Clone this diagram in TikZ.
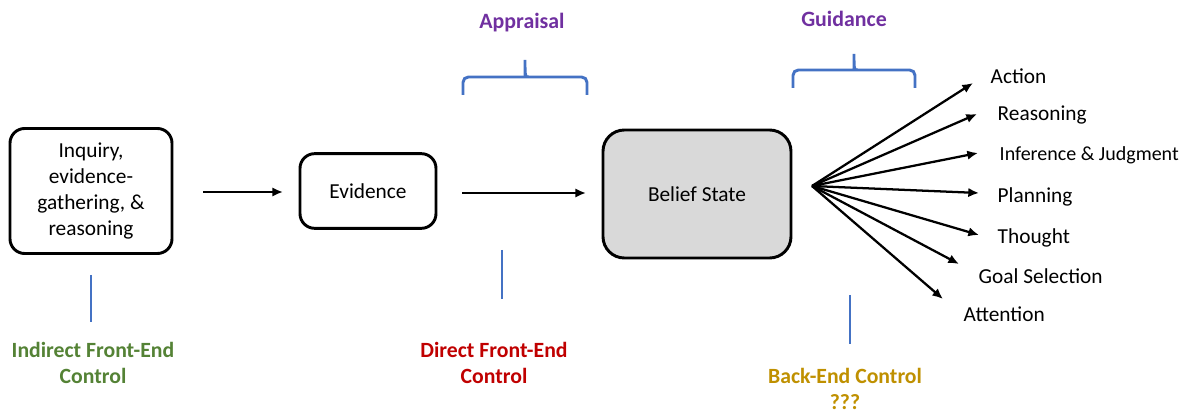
\documentclass[tikz,border=0pt]{standalone}
\usepackage{fontspec}
\setmainfont{Carlito}
\usetikzlibrary{arrows.meta,positioning}
\definecolor{braceblue}{HTML}{4472C4}
\definecolor{apppurple}{HTML}{7030A0}
\definecolor{ctrlgreen}{HTML}{548235}
\definecolor{ctrlred}{HTML}{C00000}
\definecolor{ctrlgold}{HTML}{BF9000}
\definecolor{stategray}{HTML}{D9D9D9}
\tikzset{
  procbox/.style={draw=black, line width=2.2pt, rounded corners=11pt, align=center, font=\fontsize{16}{19.5}\selectfont},
  flow/.style={-{Latex[length=8pt,width=7pt]}, line width=1.9pt, black},
  fan/.style={-{Latex[length=8pt,width=7pt]}, line width=1.7pt, black},
  brace/.style={draw=braceblue, line width=2.2pt},
  tick/.style={draw=braceblue, line width=1.1pt},
  outlbl/.style={anchor=west, font=\fontsize{16}{19.5}\selectfont},
  ctrl/.style={font=\bfseries\fontsize{16.3}{19.5}\selectfont, align=center, inner sep=1pt},
  phase/.style={font=\bfseries\fontsize{16.4}{19.5}\selectfont, text=apppurple}
}

\begin{document}
\begin{tikzpicture}[x=0.75pt,y=-0.75pt]
  \useasboundingbox (0,0) rectangle (1183,413);
  % main chain
  \node[procbox, minimum width=121.5pt, minimum height=93.75pt] (inquiry) at (91,191)
    {Inquiry,\\evidence-\\gathering, \&\\reasoning};
  \node[procbox, minimum width=102pt, minimum height=56pt] (evidence) at (368,191) {Evidence};
  \node[procbox, fill=stategray, rounded corners=16pt, minimum width=141pt, minimum height=96pt] (belief) at (697,194) {Belief State};
  \coordinate (a1s) at (203,192); \coordinate (a1e) at (283,192);
  \coordinate (a2s) at (462,193); \coordinate (a2e) at (586,193);
  \draw[flow] (a1s) -- (a1e);
  \draw[flow] (a2s) -- (a2e);
  % outputs of the belief state
  \coordinate (src) at (812,186);
  \node[outlbl] (action) at (986,76) {Action};
  \node[outlbl] (reason) at (993,115) {Reasoning};
  \node[outlbl, font=\fontsize{15}{18}\selectfont] (infer) at (995,155) {Inference \& Judgment};
  \node[outlbl] (plan) at (993,197) {Planning};
  \node[outlbl] (thought) at (993,238) {Thought};
  \node[outlbl] (goal) at (974,276) {Goal Selection};
  \node[outlbl] (attn) at (959,314) {Attention};
  \foreach \tip/\x/\y in {action/973/83, reason/977/114, infer/978/153,
                          plan/979/193, thought/979/235, goal/959/264, attn/943/299}{
    \coordinate (t-\tip) at (\x,\y);
  }
  \foreach \tip in {action,reason,infer,plan,thought,goal,attn}
    \draw[fan] (src) -- (t-\tip);
  % braces
  \draw[brace] (463,95) [rounded corners=4pt]-- (463,77) -- (521,77) [sharp corners]
    .. controls (525,77) .. (525,60) .. controls (525,77) .. (529,77)
    [rounded corners=4pt]-- (587,77) -- (587,95);
  \draw[brace] (793,88) [rounded corners=4pt]-- (793,70) -- (850,70) [sharp corners]
    .. controls (854,70) .. (854,54) .. controls (854,70) .. (858,70)
    [rounded corners=4pt]-- (915,70) -- (915,88);
  \node[phase] (appraisal) at (522,23) {Appraisal};
  \node[phase] (guidance) at (844,19) {Guidance};
  % control labels
  \coordinate (k1a) at (91,275); \coordinate (k1b) at (91,322);
  \coordinate (k2a) at (502,250); \coordinate (k2b) at (502,299);
  \coordinate (k3a) at (850,295); \coordinate (k3b) at (850,344);
  \draw[tick] (k1a) -- (k1b);
  \draw[tick] (k2a) -- (k2b);
  \draw[tick] (k3a) -- (k3b);
  \node[ctrl, text=ctrlgreen] (indirect) at (93,363) {Indirect Front-End\\Control};
  \node[ctrl, text=ctrlred] (direct) at (494,363) {Direct Front-End\\Control};
  \node[ctrl, text=ctrlgold] (backend) at (845,389) {Back-End Control\\???};
\end{tikzpicture}
\end{document}
